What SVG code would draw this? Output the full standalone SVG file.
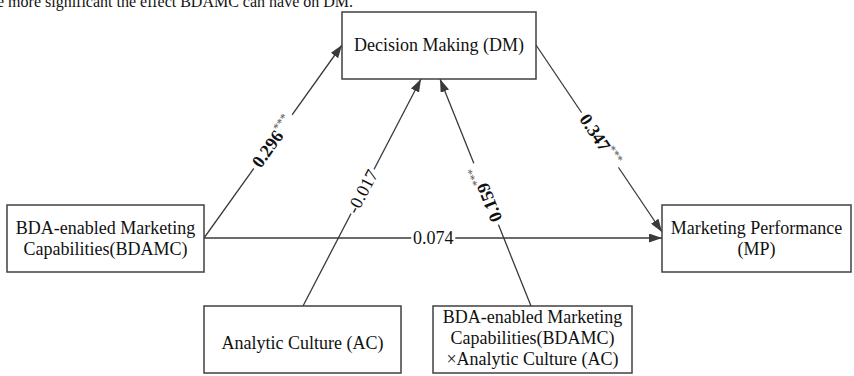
<svg xmlns="http://www.w3.org/2000/svg" width="854" height="376" viewBox="0 0 854 376">
<style>
text{font-family:"Liberation Serif","Times New Roman",serif;fill:#111}
.box{fill:#fff;stroke:#404040;stroke-width:1.5}
.lbl{font-size:18px;text-anchor:middle}
.edge{stroke:#3a3a3a;stroke-width:1.3;fill:none;marker-end:url(#arr)}
.coef{font-size:18px;text-anchor:middle}
.b{font-weight:bold}
.star{font-size:12px;fill:#555;font-weight:normal}
.gap{fill:#fff}
</style>
<defs>
<marker id="arr" markerUnits="userSpaceOnUse" markerWidth="13" markerHeight="9" refX="13" refY="4.5" orient="auto">
<path d="M0,0 L13,4.5 L0,9 z" fill="#3a3a3a"/>
</marker>
</defs>
<rect width="854" height="376" fill="#fff"/>
<text x="-3" y="7" style="font-size:16px">e more significant the effect BDAMC can have on DM.</text>
<g id="connectors">
<line class="edge" x1="204" y1="238" x2="342" y2="45"/>
<line class="edge" x1="303" y1="306" x2="421" y2="79"/>
<line class="edge" x1="531" y1="306" x2="440" y2="79"/>
<line class="edge" x1="536" y1="45" x2="662" y2="232"/>
<line class="edge" x1="204" y1="238" x2="662" y2="238"/>
<g transform="translate(272.9,141.6) rotate(-54.4)">
<rect class="gap" x="-33" y="-9" width="66" height="18"/>
<text class="coef" y="6"><tspan class="b">0.296</tspan><tspan class="star" dy="-7">***</tspan></text>
</g>
<g transform="translate(362.5,191.5) rotate(-62.5)">
<rect class="gap" x="-25" y="-9" width="50" height="18"/>
<text class="coef" y="6">-0.017</text>
</g>
<g transform="translate(486.1,194) rotate(-111.85)">
<rect class="gap" x="-33" y="-9" width="66" height="18"/>
<text class="coef" y="6"><tspan class="b">0.159</tspan><tspan class="star" dy="-7">***</tspan></text>
</g>
<g transform="translate(600,140) rotate(56)">
<rect class="gap" x="-33" y="-9" width="66" height="18"/>
<text class="coef" y="6"><tspan class="b">0.347</tspan><tspan class="star" dy="-7">***</tspan></text>
</g>
<g transform="translate(433.3,238)">
<rect class="gap" x="-22" y="-9" width="44" height="18"/>
<text class="coef" y="6">0.074</text>
</g>
</g>
<g id="DM">
<rect class="box" x="342" y="12" width="194" height="67"/>
<text class="lbl" x="439" y="51">Decision Making (DM)</text>
</g>
<g id="BDAMC">
<rect class="box" x="7" y="205" width="197" height="67"/>
<text class="lbl" x="105.5" y="234">BDA-enabled Marketing</text>
<text class="lbl" x="105.5" y="255">Capabilities(BDAMC)</text>
</g>
<g id="MP">
<rect class="box" x="662" y="205" width="189" height="67"/>
<text class="lbl" x="756.5" y="234">Marketing Performance</text>
<text class="lbl" x="756.5" y="255">(MP)</text>
</g>
<g id="AC">
<rect class="box" x="204" y="306" width="197" height="67"/>
<text class="lbl" x="302.5" y="349">Analytic Culture (AC)</text>
</g>
<g id="BDAMCxAC">
<rect class="box" x="433" y="306" width="199" height="67"/>
<text class="lbl" x="532.5" y="323">BDA-enabled Marketing</text>
<text class="lbl" x="532.5" y="344">Capabilities(BDAMC)</text>
<text class="lbl" x="532.5" y="365">×Analytic Culture (AC)</text>
</g>
</svg>
